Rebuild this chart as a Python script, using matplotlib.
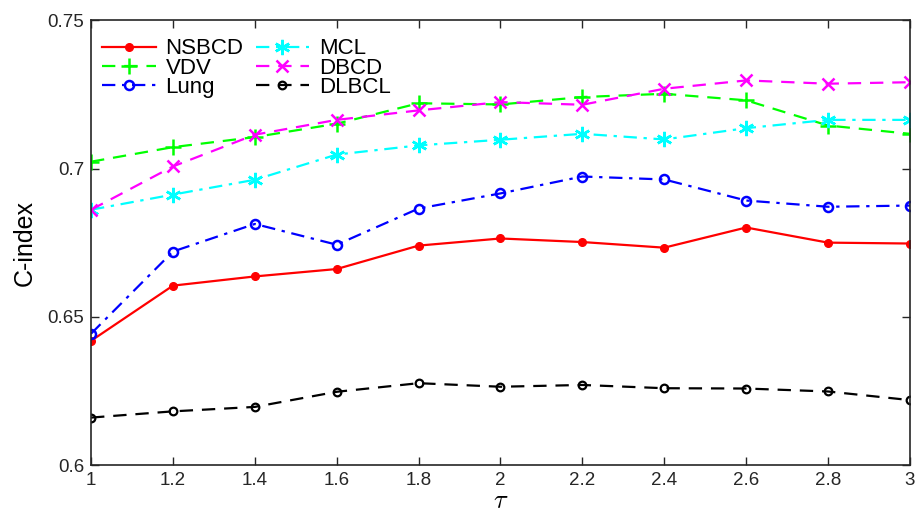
import matplotlib
matplotlib.use("Agg")
import matplotlib.pyplot as plt

plt.rcParams["font.family"] = ["Liberation Sans", "DejaVu Sans"]
plt.rcParams["mathtext.fontset"] = "cm"

tau = [1.0, 1.2, 1.4, 1.6, 1.8, 2.0, 2.2, 2.4, 2.6, 2.8, 3.0]

nsbcd = [0.6419, 0.6605, 0.6636, 0.6661, 0.6740, 0.6764, 0.6752, 0.6733, 0.6801, 0.6750, 0.6747]
vdv = [0.7023, 0.7072, 0.7106, 0.7151, 0.7220, 0.7216, 0.7241, 0.7252, 0.7230, 0.7145, 0.7117]
lung = [0.6443, 0.6720, 0.6813, 0.6743, 0.6865, 0.6916, 0.6973, 0.6963, 0.6892, 0.6871, 0.6875]
mcl = [0.6861, 0.6912, 0.6962, 0.7047, 0.7078, 0.7097, 0.7117, 0.7098, 0.7136, 0.7164, 0.7164]
dbcd = [0.6861, 0.7007, 0.7114, 0.7164, 0.7196, 0.7224, 0.7215, 0.7269, 0.7297, 0.7286, 0.7291]
dlbcl = [0.6160, 0.6181, 0.6196, 0.6247, 0.6276, 0.6264, 0.6270, 0.6259, 0.6258, 0.6248, 0.6219]

fig = plt.figure(figsize=(9.2, 5.19), dpi=100)
ax = fig.add_axes([0.099, 0.104, 0.890, 0.857])

lw = 1.6
dashed = (0, (6, 4))
dashdot = (0, (6, 3, 1.5, 3))
asterisk = (6, 2, 0)

ax.plot(tau, nsbcd, color="#ff0000", linestyle="-", marker=".", markersize=11, lw=lw, label="NSBCD")
ax.plot(tau, vdv, color="#00ff00", linestyle=dashed, marker="+", markersize=11,
        markeredgewidth=1.8, lw=lw, label="VDV")
ax.plot(tau, lung, color="#0000ff", linestyle=dashdot, marker="o", markersize=6.5,
        markerfacecolor="none", markeredgewidth=1.8, lw=lw, label="Lung")
ax.plot(tau, mcl, color="#00ffff", linestyle=dashdot, marker=asterisk, markersize=11,
        markeredgewidth=1.8, lw=lw, label="MCL")
ax.plot(tau, dbcd, color="#ff00ff", linestyle=dashed, marker="x", markersize=9,
        markeredgewidth=1.8, lw=lw, label="DBCD")
ax.plot(tau, dlbcl, color="#000000", linestyle=dashed, marker="o", markersize=5.5,
        markerfacecolor="none", markeredgewidth=1.6, lw=lw, label="DLBCL")

ax.set_xlim(1, 3)
ax.set_ylim(0.6, 0.75)
ax.set_xticks(tau)
ax.set_xticklabels(["1", "1.2", "1.4", "1.6", "1.8", "2", "2.2", "2.4", "2.6", "2.8", "3"])
ax.set_yticks([0.6, 0.65, 0.7, 0.75])
ax.set_yticklabels(["0.6", "0.65", "0.7", "0.75"])
ax.tick_params(direction="in", top=True, right=True, length=6, width=1,
               labelsize=13.5, colors="#262626", labelcolor="#262626", pad=5)
for s in ax.spines.values():
    s.set_color("#262626")
    s.set_linewidth(1.2)

ax.set_xlabel(r"$\tau$", fontsize=19, labelpad=0)
ax.set_ylabel("C-index", fontsize=18, labelpad=8)

ax.legend(loc="upper left", bbox_to_anchor=(0.0, 0.984), ncol=2, frameon=False,
          fontsize=16, handlelength=2.4, handletextpad=0.45, columnspacing=0.55,
          labelspacing=-0.08, borderaxespad=0.2, borderpad=0.3)

fig.savefig("out.png", dpi=100)
